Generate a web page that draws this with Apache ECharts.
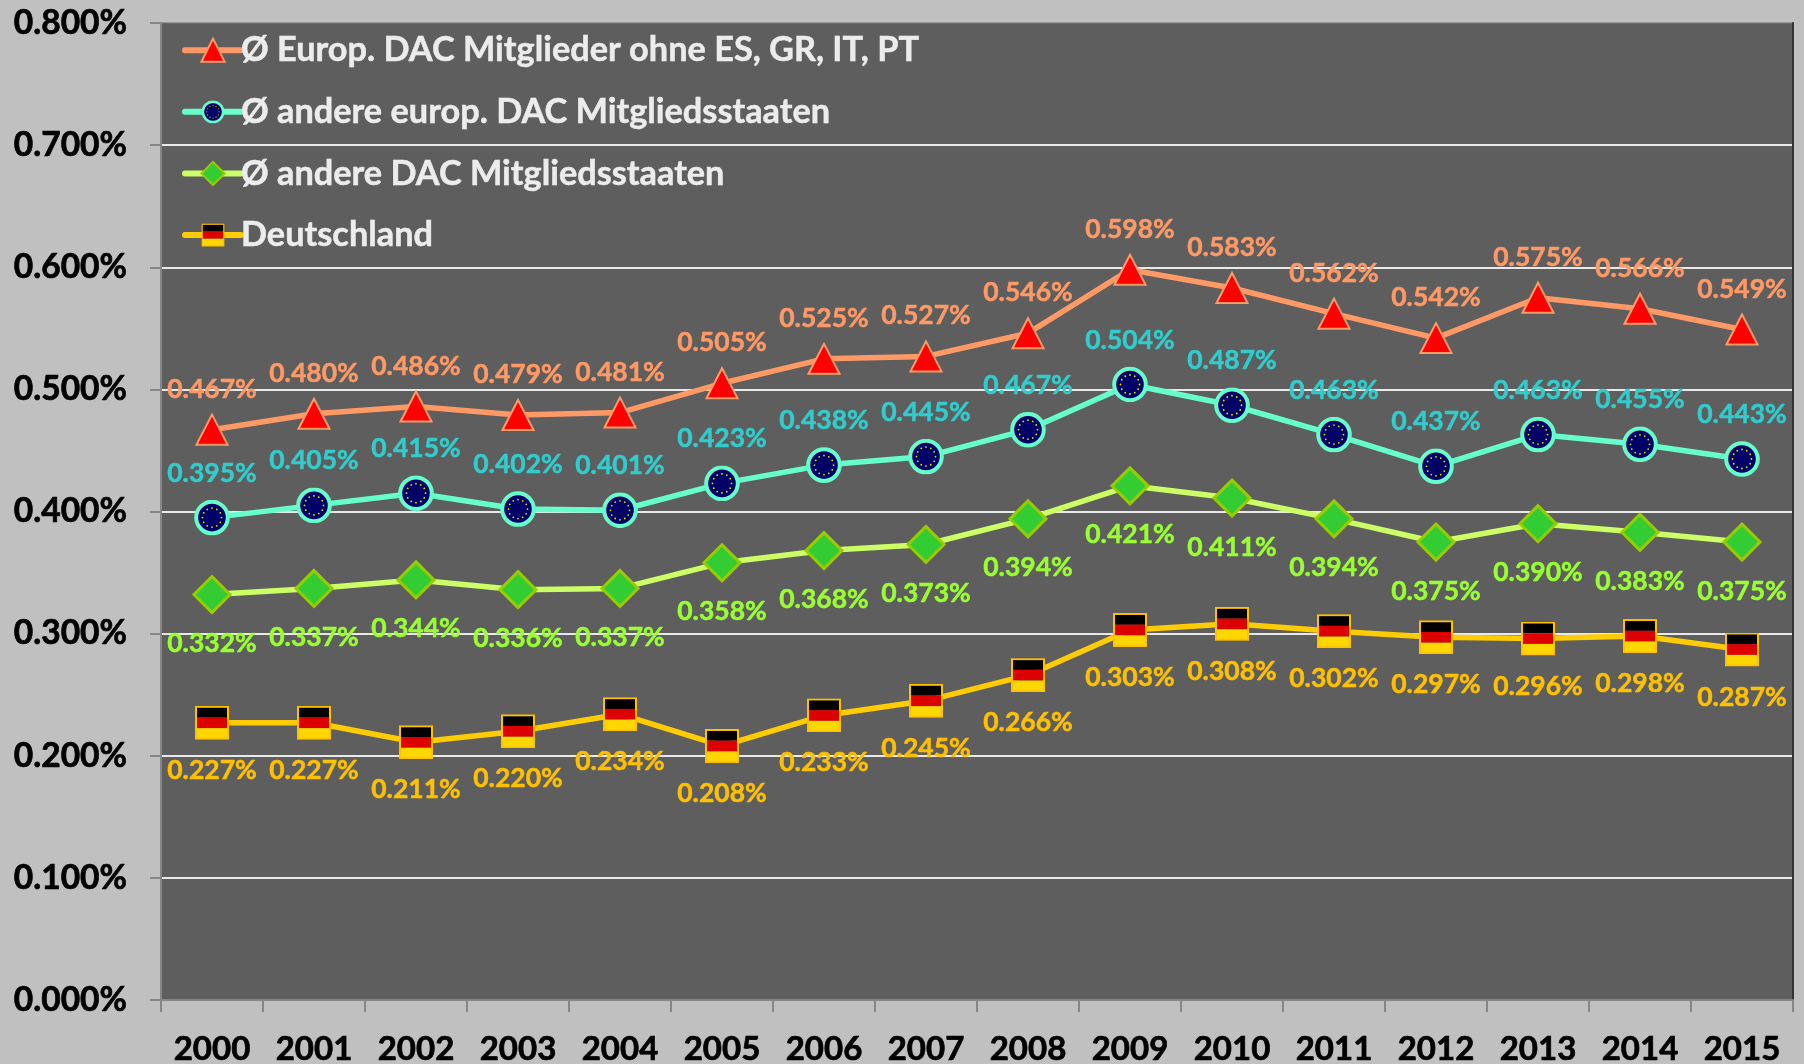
<!DOCTYPE html>
<html><head><meta charset="utf-8">
<style>html,body{margin:0;padding:0;background:#c0c0c0}#c{width:1804px;height:1064px}</style>
<script src="https://cdn.jsdelivr.net/npm/echarts@6/dist/echarts.min.js"></script>
</head><body><div id="c"></div>
<script>
const years = ['2000','2001','2002','2003','2004','2005','2006','2007','2008','2009','2010','2011','2012','2013','2014','2015'];
const europOhne = [0.467,0.480,0.486,0.479,0.481,0.505,0.525,0.527,0.546,0.598,0.583,0.562,0.542,0.575,0.566,0.549];
const andereEurop = [0.395,0.405,0.415,0.402,0.401,0.423,0.438,0.445,0.467,0.504,0.487,0.463,0.437,0.463,0.455,0.443];
const andereDac = [0.332,0.337,0.344,0.336,0.337,0.358,0.368,0.373,0.394,0.421,0.411,0.394,0.375,0.390,0.383,0.375];
const deutschland = [0.227,0.227,0.211,0.220,0.234,0.208,0.233,0.245,0.266,0.303,0.308,0.302,0.297,0.296,0.298,0.287];
const names = ['Ø Europ. DAC Mitglieder ohne ES, GR, IT, PT','Ø andere europ. DAC Mitgliedsstaaten','Ø andere DAC Mitgliedsstaaten','Deutschland'];

function svgUrl(w,h,body){
  return 'image://data:image/svg+xml;charset=utf-8,'+encodeURIComponent(
    '<svg xmlns="http://www.w3.org/2000/svg" width="'+w*2+'" height="'+h*2+'" viewBox="0 0 '+w+' '+h+'">'+body+'</svg>');
}
let stars='';
for(let i=0;i<12;i++){
  const a=i*Math.PI/6;
  stars+='<circle cx="'+(18+9.5*Math.cos(a)).toFixed(2)+'" cy="'+(18+9.5*Math.sin(a)).toFixed(2)+'" r="0.9" fill="#e8d800"/>';
}
const euFlag=svgUrl(36,36,'<circle cx="18" cy="18" r="15.8" fill="#000066" stroke="#66ffcc" stroke-width="4"/>'+stars);
const deFlag=svgUrl(34,34,'<rect x="1" y="1" width="32" height="10.7" fill="#000"/><rect x="1" y="11.7" width="32" height="10.7" fill="#dd0000"/><rect x="1" y="22.4" width="32" height="10.6" fill="#ffd700"/><rect x="1" y="1" width="32" height="32" fill="none" stroke="#ffc000" stroke-width="2"/>');

function labelCfg(color,pos,dist){
  return {show:true,position:pos,distance:dist,color:color,fontFamily:'Lato',fontWeight:'bold',fontSize:26.5,
    textBorderColor:color,textBorderWidth:0.5,
    formatter:p=>p.value.toFixed(3)+'%'};
}
function line(name,data,lineColor,labelColor,pos,dist,symbol,size,item){
  return {name,type:'line',data,symbol,symbolSize:size,showSymbol:true,animation:false,
    lineStyle:{color:lineColor,width:5.5,cap:'round'},
    itemStyle:Object.assign({color:lineColor},item),
    label:labelCfg(labelColor,pos,dist),
    emphasis:{disabled:true}};
}
const chart=echarts.init(document.getElementById('c'),null,{renderer:'canvas'});
chart.setOption({
  backgroundColor:'#c0c0c0',
  animation:false,
  grid:{left:161,right:11,top:23,bottom:64,outerBoundsMode:'none',show:true,backgroundColor:'#5e5e5e',borderColor:'#777777',borderWidth:1,containLabel:false},
  legend:{
    show:true,orient:'vertical',left:182,top:33,itemWidth:56,itemHeight:29,itemGap:27.1,
    padding:0,
    lineStyle:{width:6,cap:'round'},
    textStyle:{color:'#ececec',fontFamily:'Lato',fontWeight:'bold',fontSize:34.3,padding:[0,0,0,-5],
      textBorderColor:'#ececec',textBorderWidth:0.5},
    data:names,selectedMode:false
  },
  xAxis:{type:'category',data:years,boundaryGap:true,
    axisLine:{show:true,lineStyle:{color:'#868686',width:2}},
    axisTick:{show:true,length:12,alignWithLabel:false,lineStyle:{color:'#868686',width:2}},
    axisLabel:{color:'#000',fontFamily:'Lato',fontWeight:'bold',fontSize:33,margin:33,interval:0,textBorderColor:'#000',textBorderWidth:0.7},
    splitLine:{show:false}},
  yAxis:[{type:'value',min:0,max:0.8,interval:0.1,
    axisLine:{show:true,lineStyle:{color:'#868686',width:2}},
    axisTick:{show:true,length:11,lineStyle:{color:'#868686',width:2}},
    axisLabel:{color:'#000',fontFamily:'Lato',fontWeight:'bold',fontSize:33.5,margin:34,textBorderColor:'#000',textBorderWidth:0.7,formatter:v=>v.toFixed(3)+'%'},
    splitLine:{show:true,showMinLine:false,showMaxLine:false,lineStyle:{color:'#e8e8e8',width:2}}},
   {type:'value',position:'right',min:0,max:0.8,interval:0.8,
    axisLine:{show:true,lineStyle:{color:'#333333',width:2}},axisTick:{show:false},axisLabel:{show:false},splitLine:{show:false}}],
  series:[
    line(names[3],deutschland,'#ffcc00','#ffc000','bottom',17,deFlag,[34,34],{}),
    line(names[2],andereDac,'#ccff66','#99ff33','bottom',16,'diamond',[36,36],{color:'#33cc33',borderColor:'#99cc00',borderWidth:3}),
    line(names[1],andereEurop,'#66ffcc','#33cccc','top',13,euFlag,[36,36],{}),
    line(names[0],europOhne,'#ff9966','#ff9966','top',11,'triangle',[31,30],{color:'#ff0000',borderColor:'#ff9966',borderWidth:2})
  ]
});
</script></body></html>
